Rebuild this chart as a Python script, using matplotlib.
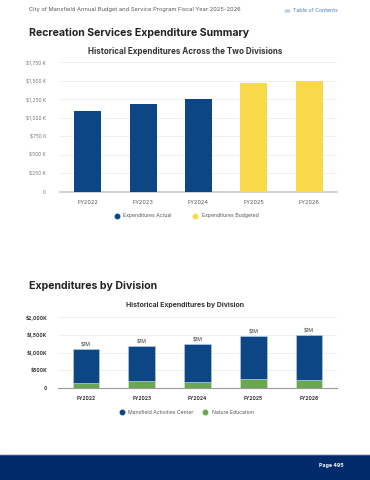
import matplotlib.pyplot as plt
import matplotlib.patches as mpatches

years = ['FY2022', 'FY2023', 'FY2024', 'FY2025', 'FY2026']
totals = [1091, 1186, 1251, 1467, 1493]
is_budget = [False, False, False, True, True]
activities_center = [956, 990, 1071, 1205, 1267]
nature_education = [135, 196, 180, 262, 226]
ticks_top = [0, 250, 500, 750, 1000, 1250, 1500, 1750]
ticks_bottom = [0, 500, 1000, 1500, 2000]

NAVY = '#0c4684'
YELLOW = '#f8d94a'
GREEN = '#6aa84f'
GRID = '#eeeeee'
W, H = 370, 480

plt.rcParams['font.family'] = ['Inter', 'DejaVu Sans']

fig = plt.figure(figsize=(W / 100, H / 100), dpi=100)


def box(x0, y0, x1, y1):
    # pixel box (top-left origin) -> figure fraction rect
    return [x0 / W, 1 - y1 / H, (x1 - x0) / W, (y1 - y0) / H]


def ktick(v):
    return '0' if v == 0 else '${:,} K'.format(v)


# page header
fig.text(29 / W, 1 - 10 / H, 'City of Mansfield Annual Budget and Service Program Fiscal Year 2025-2026',
         fontsize=4.1, color='#555555', va='center')
fig.text(293 / W, 1 - 11 / H, 'Table of Contents', fontsize=3.8, color='#4a7fc1', va='center')
for dy in (-1.3, 0, 1.3):
    fig.add_artist(plt.Line2D([285 / W, 290 / W], [1 - (11 + dy) / H] * 2, color='#4a7fc1', lw=0.3))

fig.text(29 / W, 1 - 33 / H, 'Recreation Services Expenditure Summary', fontsize=7.6,
         fontweight='bold', color='#222222', va='center')

# chart 1
ax1 = fig.add_axes(box(60, 62.3, 337, 191.7))
colors = [YELLOW if b else NAVY for b in is_budget]
ax1.bar(years, totals, width=0.49, color=colors, zorder=3)
ax1.set_xlim(-0.5, len(years) - 0.5)
ax1.set_ylim(0, 1750)
ax1.set_yticks(ticks_top)
ax1.set_yticklabels([ktick(v) for v in ticks_top])
ax1.grid(axis='y', color=GRID, lw=0.6, zorder=0)
for s in ['top', 'right', 'left']:
    ax1.spines[s].set_visible(False)
ax1.spines['bottom'].set_color('#c8c8c8')
ax1.spines['bottom'].set_linewidth(1.2)
ax1.tick_params(axis='y', length=0, labelsize=3.5, labelcolor='#777777', pad=10)
ax1.tick_params(axis='x', length=0, labelsize=4.0, labelcolor='#555555', pad=6)
fig.text(185 / W, 1 - 52 / H, 'Historical Expenditures Across the Two Divisions', fontsize=5.8,
         fontweight='bold', color='#333333', ha='center', va='center')
h1 = [plt.Line2D([], [], marker='o', ls='', color=NAVY, markersize=3.2, label='Expenditures Actual'),
      plt.Line2D([], [], marker='o', ls='', color=YELLOW, markersize=3.2, label='Expenditures Budgeted')]
fig.legend(handles=h1, loc='center', bbox_to_anchor=(185 / W, 1 - 216 / H), ncol=2, frameon=False,
           fontsize=3.7, labelcolor='#555555', handletextpad=0.3, columnspacing=3.5)

fig.text(29 / W, 1 - 286 / H, 'Expenditures by Division', fontsize=7.6,
         fontweight='bold', color='#222222', va='center')

# chart 2
ax2 = fig.add_axes(box(58, 317.3, 337, 388))
ax2.bar(years, nature_education, width=0.48, color=GREEN, edgecolor='#d8ecd0', lw=0.4, zorder=3)
ax2.bar(years, activities_center, bottom=nature_education, width=0.48, color=NAVY,
        edgecolor='#b8d4ee', lw=0.4, zorder=3)
for i, (a, b) in enumerate(zip(activities_center, nature_education)):
    ax2.text(i, a + b + 45, '$%dM' % round((a + b) / 1000), ha='center', va='bottom',
             fontsize=3.7, color='#333333')
ax2.set_xlim(-0.5, len(years) - 0.5)
ax2.set_ylim(0, 2000)
ax2.set_yticks(ticks_bottom)
ax2.set_yticklabels(['0' if v == 0 else '${:,}K'.format(v) for v in ticks_bottom])
ax2.grid(axis='y', color=GRID, lw=0.6, zorder=0)
for s in ['top', 'right', 'left']:
    ax2.spines[s].set_visible(False)
ax2.spines['bottom'].set_color('#999999')
ax2.spines['bottom'].set_linewidth(0.8)
ax2.tick_params(axis='y', length=0, labelsize=3.5, labelcolor='#333333', pad=8)
ax2.tick_params(axis='x', length=0, labelsize=3.5, labelcolor='#333333', pad=6)
for lab in ax2.get_xticklabels() + ax2.get_yticklabels():
    lab.set_fontweight('bold')
fig.text(185 / W, 1 - 305 / H, 'Historical Expenditures by Division', fontsize=5.0,
         fontweight='bold', color='#333333', ha='center', va='center')
h2 = [plt.Line2D([], [], marker='o', ls='', color=NAVY, markersize=3.2, label='Mansfield Activities Center'),
      plt.Line2D([], [], marker='o', ls='', color=GREEN, markersize=3.2, label='Nature Education')]
fig.legend(handles=h2, loc='center', bbox_to_anchor=(185 / W, 1 - 412 / H), ncol=2, frameon=False,
           fontsize=3.7, labelcolor='#555555', handletextpad=0.3, columnspacing=1.2)

# footer band
fig.add_artist(mpatches.Rectangle((0, 0), 1, 25 / H, transform=fig.transFigure, color='#002a6a'))
fig.add_artist(plt.Line2D([0, 1], [25 / H] * 2, color='#3a5a8c', lw=0.6))
fig.text(331 / W, 1 - 466 / H, 'Page 495', fontsize=3.8, fontweight='bold', color='white',
         ha='center', va='center')

fig.savefig('out.png', dpi=100)
